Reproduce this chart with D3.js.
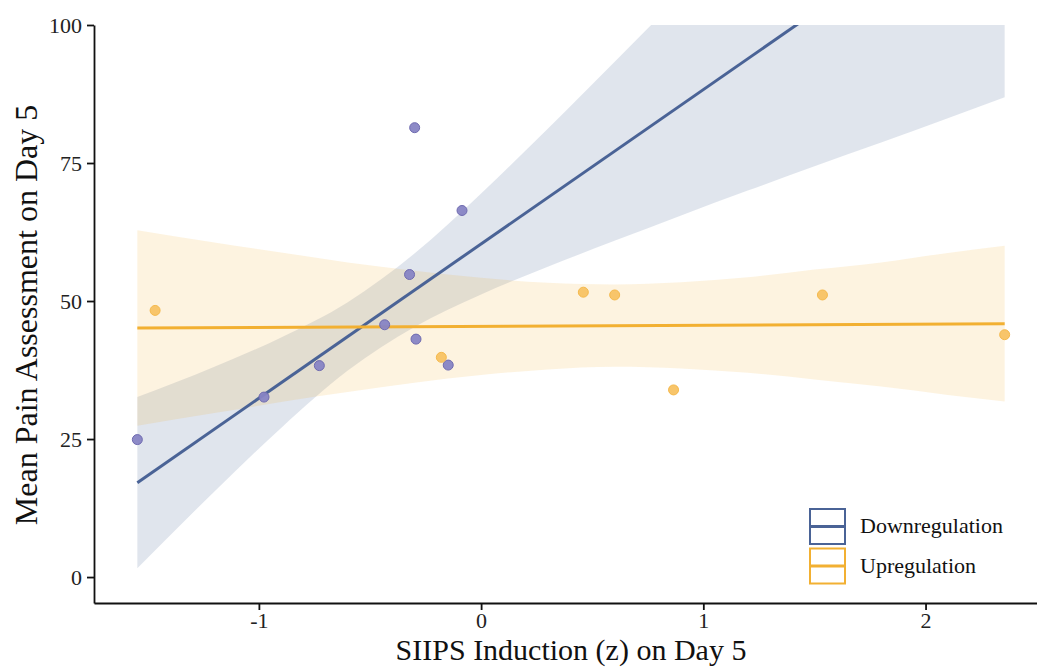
<!DOCTYPE html>
<html>
<head>
<meta charset="utf-8">
<script src="https://cdn.jsdelivr.net/npm/d3@7"></script>
<style>
	body { margin: 0; background: #fff; }
	svg { display: block; }
	.axis text { font-family: "Liberation Serif", "Times New Roman", serif; font-size: 22px; fill: #222; }
	.axis path, .axis line { stroke: #111; stroke-width: 1.8; }
</style>
</head>
<body>
<div id="chart"></div>
<script>
// points
var downX = [-1.547, -0.977, -0.728, -0.434, -0.322, -0.299, -0.293, -0.148, -0.086];
var downY = [24.9, 32.6, 38.3, 45.7, 54.8, 81.4, 43.1, 38.4, 66.4];
var upX = [-1.467, -0.179, 0.460, 0.601, 0.866, 1.536, 2.356];
var upY = [48.3, 39.8, 51.6, 51.1, 33.9, 51.1, 43.9];

// fitted lines (ends of data range)
var lineX = [-1.547, 2.356];
var downFit = [17.1, 126.2];
var upFit = [45.1, 45.9];

// confidence bands
var bandX = [-1.547, -1.2, -0.9, -0.6, -0.3, 0, 0.3, 0.6, 0.9, 1.2, 1.5, 1.8, 2.1, 2.356];
var downLower = [1.6, 15.5, 27.0, 37.4, 45.3, 51.2, 56.2, 60.9, 65.5, 70.0, 74.4, 78.7, 83.1, 86.9];
var downUpper = [32.6, 38.1, 43.4, 49.8, 58.6, 69.5, 81.2, 93.3, 105.5, 117.8, 130.2, 142.5, 154.9, 165.5];
var upLower = [27.4, 29.7, 31.7, 33.5, 35.2, 36.6, 37.6, 38.1, 37.8, 37.0, 35.8, 34.5, 33.0, 31.8];
var upUpper = [62.8, 60.6, 58.8, 57.0, 55.5, 54.2, 53.3, 53.0, 53.4, 54.3, 55.7, 57.0, 58.7, 60.0];

var yTicks = [0, 25, 50, 75, 100];
var xTicks = [-1, 0, 1, 2];
var groups = ["Downregulation", "Upregulation"];

var W = 1037, H = 668;
var blue = "#4a6396", yellow = "#f2b032";

var svg = d3.select("#chart").append("svg").attr("width", W).attr("height", H);

var x = d3.scaleLinear().domain([-1.742, 2.551]).range([94, 1048]);
var y = d3.scaleLinear().domain([-4.7, 100]).range([603, 25]);

svg.append("clipPath").attr("id", "panel")
	.append("rect").attr("x", 94).attr("y", 25).attr("width", 954).attr("height", 578);

var g = svg.append("g").attr("clip-path", "url(#panel)");

var area = function (lo, hi) {
	return d3.area()
		.x(function (d, i) { return x(bandX[i]); })
		.y0(function (d, i) { return y(lo[i]); })
		.y1(function (d, i) { return y(hi[i]); })
		.curve(d3.curveMonotoneX)(bandX);
};

g.append("path").attr("d", area(downLower, downUpper)).attr("fill", blue).attr("fill-opacity", 0.17);
g.append("path").attr("d", area(upLower, upUpper)).attr("fill", yellow).attr("fill-opacity", 0.15);

var line = function (vals) {
	return d3.line()
		.x(function (d, i) { return x(lineX[i]); })
		.y(function (d, i) { return y(vals[i]); })(lineX);
};
g.append("path").attr("d", line(downFit)).attr("stroke", blue).attr("stroke-width", 3).attr("fill", "none");
g.append("path").attr("d", line(upFit)).attr("stroke", yellow).attr("stroke-width", 3).attr("fill", "none");

// points
g.selectAll(".dn").data(downX).enter().append("circle")
	.attr("cx", function (d) { return x(d); })
	.attr("cy", function (d, i) { return y(downY[i]); })
	.attr("r", 5)
	.attr("fill", "#8784c4").attr("stroke", "#6f6bb0").attr("stroke-width", 1).attr("fill-opacity", 0.95);
g.selectAll(".up").data(upX).enter().append("circle")
	.attr("cx", function (d) { return x(d); })
	.attr("cy", function (d, i) { return y(upY[i]); })
	.attr("r", 5)
	.attr("fill", "#f8c56a").attr("stroke", "#f5b94c").attr("stroke-width", 1);

// Axes
svg.append("g").attr("class", "axis")
	.attr("transform", "translate(94,0)")
	.call(d3.axisLeft(y).tickValues(yTicks).tickSize(7).tickSizeOuter(0).tickPadding(5));

svg.append("g").attr("class", "axis")
	.attr("transform", "translate(0,603)")
	.call(d3.axisBottom(x).tickValues(xTicks).tickSize(7).tickSizeOuter(0).tickPadding(2)
		.tickFormat(function (d) { return d < 0 ? "-" + Math.abs(d) : d; }));

svg.append("text")
	.attr("x", 571).attr("y", 660)
	.attr("text-anchor", "middle")
	.style("font-family", "Liberation Serif, serif").style("font-size", "30px").attr("fill", "#111")
	.text("SIIPS Induction (z) on Day 5");

svg.append("text")
	.attr("transform", "translate(37,315) rotate(-90)")
	.attr("text-anchor", "middle")
	.style("font-family", "Liberation Serif, serif").style("font-size", "32px").attr("fill", "#111")
	.text("Mean Pain Assessment on Day 5");

// Legend
var leg = svg.append("g").attr("transform", "translate(809,508)");
groups.forEach(function (name, i) {
	var col = i === 0 ? blue : yellow;
	var row = leg.append("g").attr("transform", "translate(0," + (i * 39.5) + ")");
	row.append("rect").attr("x", 1).attr("y", 1).attr("width", 35).attr("height", 35)
		.attr("fill", "#fff").attr("stroke", col).attr("stroke-width", 2);
	row.append("line").attr("x1", 2).attr("x2", 35).attr("y1", 18.5).attr("y2", 18.5)
		.attr("stroke", col).attr("stroke-width", 3);
	row.append("text").attr("x", 51).attr("y", 25)
		.style("font-family", "Liberation Serif, serif").style("font-size", "22px").attr("fill", "#111")
		.text(name);
});
</script>
</body>
</html>
